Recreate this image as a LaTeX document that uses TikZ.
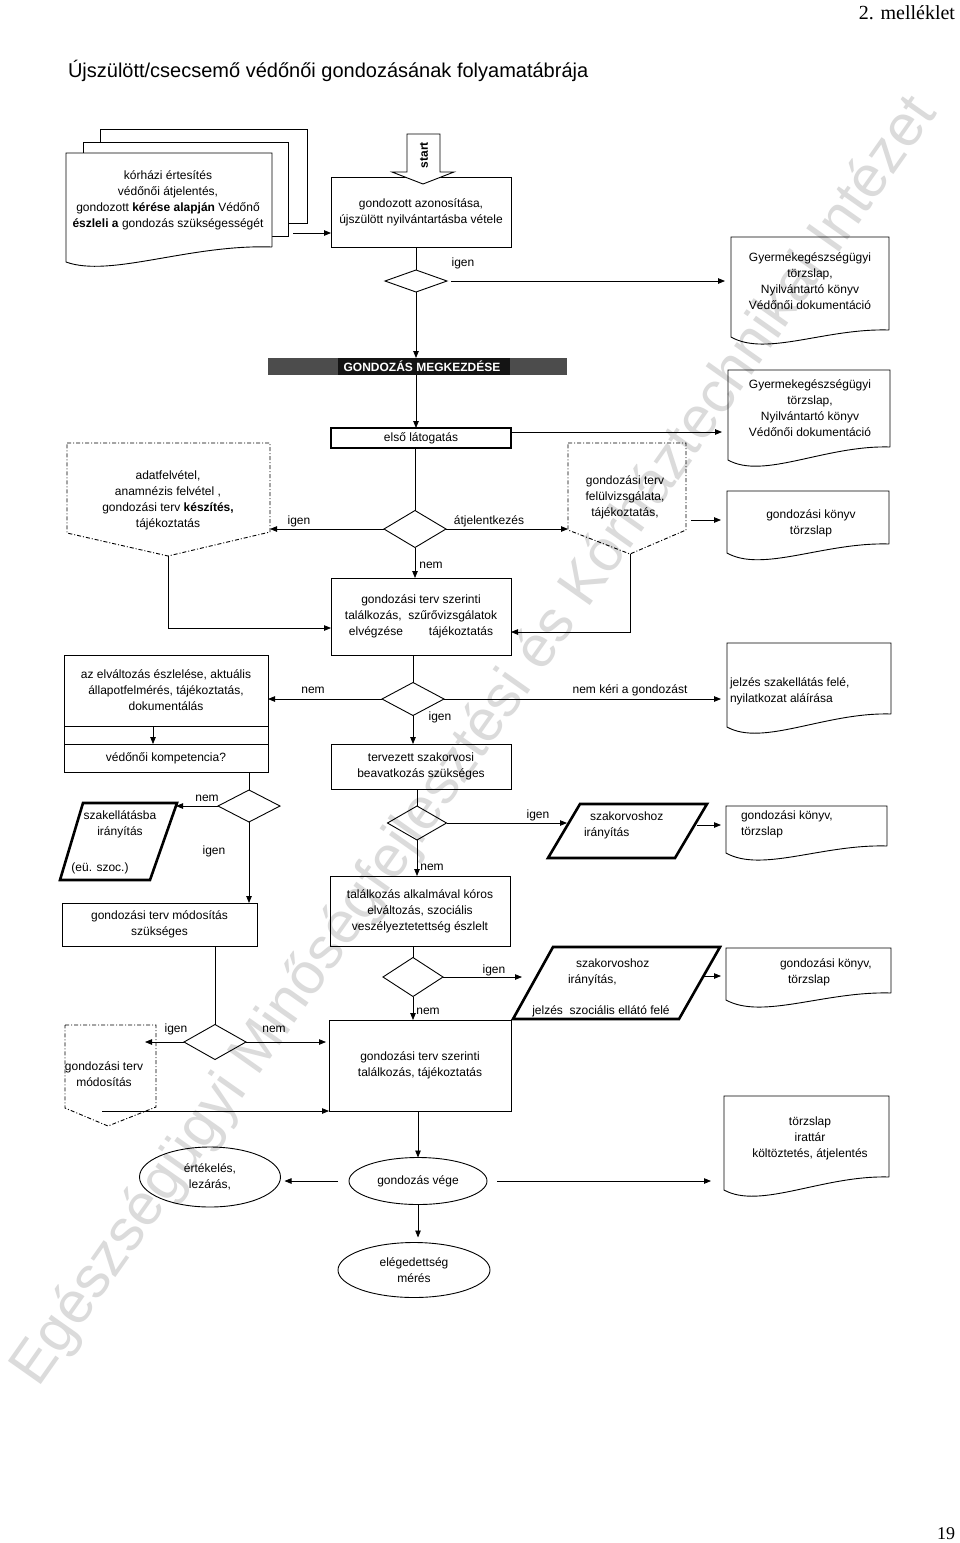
\documentclass[tikz,border=0pt]{standalone}
\usepackage{fontspec}
\setmainfont{Liberation Sans}
\newfontfamily\headserif{Liberation Serif}
\usetikzlibrary{shapes.geometric,arrows.meta,calc}
\newcommand\docpath[5]{\draw[shp] (#3,#4) -- (#3,#2) -- (#1,#2) -- (#1,#5) .. controls ({#1+0.22*(#3-#1)},{#5+20}) and ({#1+0.6*(#3-#1)},{#4-2}) .. (#3,#4);}
\tikzset{
  every node/.style={inner sep=0pt, outer sep=0pt},
  txt/.style={font=\fontsize{12}{16}\selectfont, align=center},
  lbl/.style={font=\fontsize{12}{14}\selectfont},
  proc/.style={draw, line width=1pt, txt},
  dec/.style={draw, diamond, line width=0.9pt},
  oval/.style={draw, ellipse, line width=0.9pt, txt},
  shp/.style={draw, line width=0.9pt},
  thk/.style={draw, line width=2.6pt, line join=miter},
  dashshp/.style={draw, line width=0.9pt, dash pattern=on 4pt off 2pt on 1pt off 2pt},
  conn/.style={line width=0.8pt},
  arr/.style={conn, -{Triangle[length=7pt,width=5.5pt]}},
}
\begin{document}
\begin{tikzpicture}[x=1pt,y=-1pt]
\fill[white] (0,0) rectangle (960,1543);
\useasboundingbox (0,0) rectangle (960,1543);
% watermark
\node[rotate=54.8, anchor=base west, text=black!14, font=\fontsize{58.5}{60}\selectfont] (wm) at (38,1388) {Egészségügyi Minőségfejlesztési és Kórháztechnikai Intézet};
% header, title, page number
\node[anchor=base east, font=\headserif\fontsize{20}{22}\selectfont] (hdr) at (955,19) {2. melléklet};
\node[anchor=base east, font=\headserif\fontsize{18}{20}\selectfont] (pg) at (955,1539) {19};
\node[anchor=base west, font=\fontsize{20}{22}\selectfont] (title) at (68,77) {Újszülött/csecsemő védőnői gondozásának folyamatábrája};

% multi-document source
\draw[shp, fill=white] (100,129) rectangle (307,223);
\draw[shp, fill=white] (83,142) rectangle (288,236);
\draw[shp, fill=white] (272,247) -- (272,153) -- (66,153) -- (66,262) .. controls (110,278) and (190,244) .. (272,247);
\node[txt] (src) at (168,200) {kórházi értesítés\\védőnői átjelentés,\\gondozott \textbf{kérése alapján} Védőnő\\\textbf{észleli a} gondozás szükségességét};
\coordinate (srcout) at (293,233);

% box1 and start arrow
\node[proc, minimum width=180, minimum height=70] (box1) at (421,212) {gondozott azonosítása,\\újszülött nyilvántartásba vétele};
\draw[shp, fill=white] (407,134) -- (440,134) -- (440,172) -- (454,172) -- (423,184) -- (392,172) -- (407,172) -- cycle;
\node[rotate=90, font=\bfseries\fontsize{12}{13}\selectfont] (start) at (424,155) {start};
\draw[arr] (srcout) -- (srcout -| box1.west);

% diamond 1
\node[dec, minimum width=62, minimum height=22] (dia1) at (416,281) {};
\draw[conn] (dia1.north |- box1.south) -- (dia1.north);
\node[lbl] (l1) at (463,263) {igen};
\node[minimum width=158, minimum height=93] (d1) at (810,283.5) {};
\docpath{731}{237}{889}{330}{337}
\node[txt] (td1) at (810,281) {Gyermekegészségügyi\\törzslap,\\Nyilvántartó könyv\\Védőnői dokumentáció};
\draw[arr, shorten <=4pt, shorten >=6pt] (dia1.east) -- (dia1.east -| d1.west);

% banner
\node[fill=black!70, minimum width=299, minimum height=17] (banner) at (417.5,366.5) {};
\fill[black!92] (338,358) rectangle (510,375);
\node[font=\bfseries\fontsize{12}{13}\selectfont, text=white] (bantxt) at (422,366.5) {GONDOZÁS MEGKEZDÉSE};
\draw[arr] (dia1.south) -- (dia1.south |- banner.north);

% first visit
\node[proc, line width=1.5pt, minimum width=180, minimum height=20] (visit) at (421,438) {első látogatás};
\draw[arr] (dia1.south |- banner.south) -- (dia1.south |- visit.north);
\node[minimum width=162, minimum height=77] (d2) at (809,408.5) {};
\docpath{728}{370}{890}{447}{460}
\node[txt] (td2) at (810,408) {Gyermekegészségügyi\\törzslap,\\Nyilvántartó könyv\\Védőnői dokumentáció};
\coordinate (visitR) at ([yshift=6pt]visit.east);
\draw[arr, shorten >=6pt] (visitR) -- (visitR -| d2.west);

% diamond 2
\node[dec, minimum width=62, minimum height=37] (dia2) at (415,529) {};
\draw[conn] (dia2.north |- visit.south) -- (dia2.north);

\draw[dashshp] (67,443) -- (270,443) -- (270,532) -- (168,556) -- (67,533) -- cycle;
\node[txt] (tleft) at (168,500) {adatfelvétel,\\anamnézis felvétel ,\\gondozási terv \textbf{készítés,}\\tájékoztatás};
\coordinate (dlE) at (270,529);
\coordinate (dlpt) at (168,556);
\coordinate (jl) at (168,628);
\draw[arr] (dia2.west) -- (dlE);
\node[lbl] (l2) at (299,521) {igen};

\draw[dashshp] (568,443) -- (686,443) -- (686,530) -- (630,554) -- (568,530) -- cycle;
\node[txt] (tright) at (625,497) {gondozási terv\\felülvizsgálata,\\tájékoztatás,};
\coordinate (drW) at (568,529);
\coordinate (drE) at (691,520);
\coordinate (drpt) at (630,554);
\coordinate (jr) at (630,632);
\draw[arr] (dia2.east) -- (drW);
\node[lbl] (l3) at (489,521) {átjelentkezés};

\node[minimum width=162, minimum height=53] (d3) at (808,517.5) {};
\docpath{727}{491}{889}{544}{553}
\node[txt] (td3) at (811,523) {gondozási könyv\\törzslap};
\draw[arr, shorten >=6pt] (drE) -- (drE -| d3.west);

% box2
\node[proc, minimum width=180, minimum height=77] (box2) at (421,616.5) {gondozási terv szerinti\\találkozás,\ \ szűrővizsgálatok\\elvégzése\hspace{26pt}tájékoztatás};
\draw[arr] (dia2.south) -- (dia2.south |- box2.north);
\node[lbl] (l4) at (431,565) {nem};
\draw[arr] (dlpt) -- (jl) -- (jl -| box2.west);
\draw[arr] (drpt) -- (jr) -- (jr -| box2.east);

% diamond 3
\node[dec, minimum width=62, minimum height=33] (dia3) at (413,699) {};
\draw[conn] (dia3.north |- box2.south) -- (dia3.north);
\node[proc, minimum width=204, minimum height=71] (box3) at (166,690.5) {az elváltozás észlelése, aktuális\\állapotfelmérés, tájékoztatás,\\dokumentálás};
\node[proc, minimum width=204, minimum height=28] (comp) at (166,758) {védőnői kompetencia?};
\draw[shp] (box3.south west) rectangle (comp.north east);
\draw[arr] ([xshift=-13pt]box3.south) -- ([xshift=-13pt]comp.north);
\draw[arr] (dia3.west) -- (dia3.west -| box3.east);
\node[lbl] (l5) at (313,690) {nem};
\node[minimum width=164, minimum height=71] (d4) at (809,678.5) {};
\docpath{727}{643}{891}{714}{727}
\node[txt, align=left, anchor=west] (td4) at (730,691) {jelzés szakellátás felé,\\nyilatkozat aláírása};
\draw[arr, shorten >=6pt] (dia3.east) -- (dia3.east -| d4.west);
\node[lbl] (l6) at (630,690) {nem kéri a gondozást};

% box4
\node[proc, minimum width=180, minimum height=45] (box4) at (421,766.5) {tervezett szakorvosi\\beavatkozás szükséges};
\draw[arr] (dia3.south) -- (dia3.south |- box4.north);
\node[lbl] (l7) at (440,717) {igen};

% diamond 7
\node[dec, minimum width=59, minimum height=34] (dia7) at (417,823) {};
\draw[conn] (dia7.north |- box4.south) -- (dia7.north);
\draw[thk] (580,804) -- (707,804) -- (675,858) -- (548,858) -- cycle;
\node[txt, align=left, anchor=west] (tp2) at (584,825) {\hspace*{6pt}szakorvoshoz\\irányítás};
\coordinate (p2W) at (567,823);
\coordinate (p2E) at (697,825);
\draw[arr] (dia7.east) -- (p2W);
\node[lbl] (l8) at (538,815) {igen};
\node[minimum width=161, minimum height=40] (d5) at (806.5,826) {};
\docpath{726}{806}{887}{846}{853}
\node[txt, align=left, anchor=west] (td5) at (741,824) {gondozási könyv,\\törzslap};
\draw[arr, shorten >=5pt] (p2E) -- (p2E -| d5.west);

% box6
\node[proc, minimum width=180, minimum height=70] (box6) at (420,911) {találkozás alkalmával kóros\\elváltozás, szociális\\veszélyeztetettség észlelt};
\draw[arr] (dia7.south) -- (dia7.south |- box6.north);
\node[lbl] (l9) at (432,867) {nem};

% diamond 6
\node[dec, minimum width=60, minimum height=39] (dia6) at (413,977) {};
\draw[conn] (dia6.north |- box6.south) -- (dia6.north);
\draw[thk] (553,947) -- (720,947) -- (679,1019) -- (513,1019) -- cycle;
\node[txt, align=left, anchor=west] (tp3) at (568,972) {\hspace*{8pt}szakorvoshoz\\irányítás,};
\node[txt] (tp3b) at (601,1011) {jelzés\ \ szociális ellátó felé};
\coordinate (p3W) at (522,977);
\coordinate (p3E) at (704,976);
\draw[arr] (dia6.east) -- (p3W);
\node[lbl] (l10) at (494,970) {igen};
\node[minimum width=165, minimum height=45] (d6) at (808.5,970.5) {};
\docpath{726}{948}{891}{993}{1000}
\node[txt, align=left, anchor=west] (td6) at (780,972) {gondozási könyv,\\\hspace*{8pt}törzslap};
\draw[arr, shorten >=5pt] (p3E) -- (p3E -| d6.west);

% box8
\node[proc, minimum width=182, minimum height=91] (box8) at (420,1065.5) {gondozási terv szerinti\\találkozás, tájékoztatás};
\draw[arr] (dia6.south) -- (dia6.south |- box8.north);
\node[lbl] (l11) at (428,1011) {nem};

% diamond 4
\node[dec, minimum width=62, minimum height=32] (dia4) at (249,806) {};
\draw[conn] (dia4.north |- comp.south) -- (dia4.north);
\draw[thk] (83,803) -- (177,803) -- (150,880) -- (60,880) -- cycle;
\node[txt] (tp1) at (120,824) {szakellátásba\\irányítás};
\node[txt] (tp1b) at (100,868) {(eü. szoc.)};
\coordinate (p1E) at (176,806);
\draw[arr] (dia4.west) -- (p1E);
\node[lbl] (l12) at (207,798) {nem};

% box5
\node[proc, minimum width=195, minimum height=43] (box5) at (159.5,924.5) {gondozási terv módosítás\\szükséges};
\draw[arr] (dia4.south) -- (dia4.south |- box5.north);
\node[lbl] (l13) at (214,851) {igen};

% diamond 5
\node[dec, minimum width=62, minimum height=35] (dia5) at (215,1042) {};
\draw[conn] (dia5.north |- box5.south) -- (dia5.north);
\draw[dashshp] (65,1025) -- (156,1025) -- (156,1107) -- (108,1126) -- (65,1108) -- cycle;
\node[txt] (tdash3) at (104,1074) {gondozási terv\\módosítás};
\coordinate (ds3E) at (145,1042);
\coordinate (ds3out) at (102,1111);
\draw[arr] (dia5.west) -- (ds3E);
\node[lbl] (l14) at (176,1029) {igen};
\draw[arr, shorten >=3pt] (dia5.east) -- (dia5.east -| box8.west);
\node[lbl] (l15) at (274,1029) {nem};
\draw[arr] (ds3out) -- (ds3out -| box8.west);

% end
\node[oval, minimum width=138, minimum height=47] (fin) at (418,1181) {gondozás vége};
\draw[arr] (fin.north |- box8.south) -- (fin.north);
\node[oval, minimum width=141, minimum height=60] (evalnode) at (210,1177) {értékelés,\\lezárás,};
\draw[arr, shorten <=11pt, shorten >=4pt] (fin.west) -- (fin.west -| evalnode.east);
\node[minimum width=165, minimum height=81] (d7) at (806.5,1136.5) {};
\docpath{724}{1096}{889}{1177}{1190}
\node[txt] (td7) at (810,1138) {törzslap\\irattár\\költöztetés, átjelentés};
\draw[arr, shorten <=10pt, shorten >=13pt] (fin.east) -- (fin.east -| d7.west);
\node[oval, minimum width=152, minimum height=55] (sat) at (414,1270) {elégedettség\\mérés};
\draw[arr, shorten >=5pt] (fin.south) -- (fin.south |- sat.north);
\end{tikzpicture}
\end{document}
